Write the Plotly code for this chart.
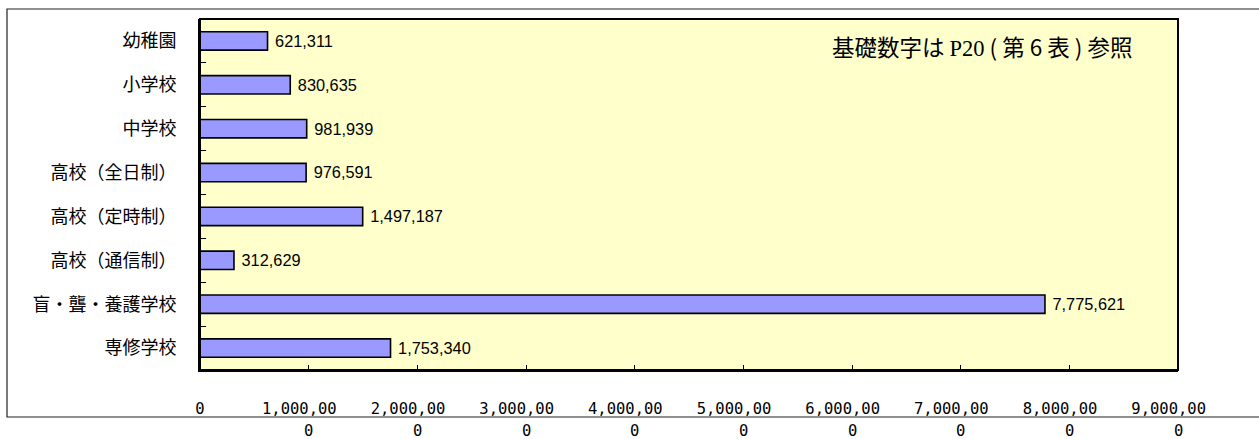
import plotly.graph_objects as go

categories = ["幼稚園", "小学校", "中学校", "高校（全日制）", "高校（定時制）",
              "高校（通信制）", "盲・聾・養護学校", "専修学校"]
values = [621311, 830635, 981939, 976591, 1497187, 312629, 7775621, 1753340]
tick_vals = [0, 1000000, 2000000, 3000000, 4000000, 5000000, 6000000, 7000000, 8000000, 9000000]
tick_line1 = ["0", "1,000,00", "2,000,00", "3,000,00", "4,000,00", "5,000,00",
              "6,000,00", "7,000,00", "8,000,00", "9,000,00"]
tick_line2 = ["", "0", "0", "0", "0", "0", "0", "0", "0", "0"]
note = ("基礎数字は <span style='font-family:Liberation Serif'>P20</span> ( 第 6 表 ) 参照")

W, H = 1259, 439
L, R, T, B = 200, 1178, 19, 370
pw, ph = R - L, B - T

def px2paper_x(px):
    return (px - L) / pw

def px2paper_y(py):
    return (B - py) / ph

NB = "\u00a0"

fig = go.Figure()
fig.add_trace(go.Bar(
    x=values, y=categories, orientation="h",
    marker=dict(color="#9999FF", line=dict(color="#000000", width=1.6)),
    width=0.42,
    text=[NB + f"{v:,}" for v in values],
    textposition="outside",
    textfont=dict(family="Liberation Sans, Arial", size=19.5, color="#000"),
    cliponaxis=False,
    hoverinfo="skip",
))

for v, t in zip(tick_vals, tick_line2):
    if t:
        fig.add_annotation(x=v, xref="x", y=px2paper_y(431), yref="paper",
                           text=t, showarrow=False, yanchor="middle", xanchor="center",
                           font=dict(family="DejaVu Sans Mono", size=15.5, color="#000"))

fig.add_annotation(x=px2paper_x(982), xref="paper", y=px2paper_y(46), yref="paper",
                   text=note, showarrow=False, xanchor="center", yanchor="middle",
                   font=dict(family="Noto Sans CJK JP", size=22.5, color="#000"))

# plot-area border
fig.add_shape(type="rect", xref="paper", yref="paper", x0=0, x1=1, y0=0, y1=1,
              line=dict(color="#000", width=2), layer="above")
# outer chart border
fig.add_shape(type="rect", xref="paper", yref="paper",
              x0=px2paper_x(7), x1=px2paper_x(1265), y0=px2paper_y(417), y1=px2paper_y(9),
              line=dict(color="#222", width=1.2), layer="above")

fig.update_layout(
    width=W, height=H,
    margin=dict(l=L, r=W - R, t=T, b=H - B),
    paper_bgcolor="white",
    plot_bgcolor="#FFFFCC",
    showlegend=False,
    font=dict(family="Noto Sans CJK JP", color="#000"),
)
fig.update_xaxes(
    range=[0, 9000000], tickvals=tick_vals,
    ticktext=[t if i == 0 else t + NB + NB for i, t in enumerate(tick_line1)],
    ticks="inside", ticklen=5, tickcolor="#000", tickwidth=1,
    showgrid=False, zeroline=False, showline=True, linecolor="#000", linewidth=2,
    tickfont=dict(family="DejaVu Sans Mono", size=15.5, color="#000"),
    ticklabelstandoff=23,
)
fig.update_yaxes(
    autorange="reversed", ticks="inside", tickson="boundaries", ticklen=6,
    tickcolor="#000", tickwidth=1, showgrid=False, zeroline=False,
    showline=True, linecolor="#000", linewidth=2,
    tickfont=dict(family="Noto Sans CJK JP", size=18, color="#000"),
    ticklabelstandoff=18,
)

fig.write_html("out.html", config={"displayModeBar": False},
               post_script="document.body.style.margin='0';document.body.style.overflow='hidden';")
